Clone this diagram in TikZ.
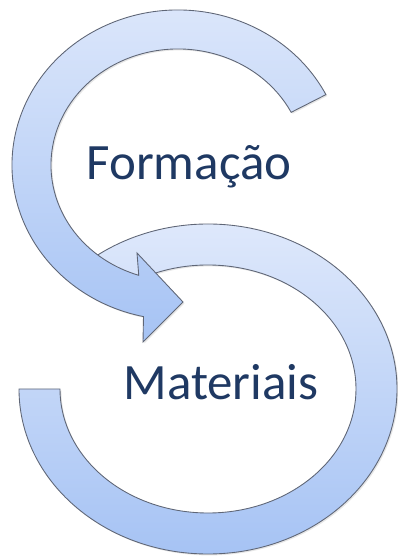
\documentclass[tikz,border=0pt]{standalone}
\usepackage{fontspec}
\setmainfont{Carlito}
\usepackage{tikz}
\usetikzlibrary{calc,shadows}
\definecolor{bandtop}{RGB}{222,232,251}
\definecolor{bandbot}{RGB}{166,195,244}
\definecolor{bandline}{RGB}{95,102,118}
\definecolor{lbltext}{RGB}{31,57,99}
\tikzset{
  band/.style={draw=bandline, line width=0.5pt, top color=bandtop,
    bottom color=bandbot,
    drop shadow={shadow xshift=0.8pt, shadow yshift=-0.8pt, opacity=0.2}},
  lbl/.style={text=lbltext, font=\fontsize{29}{34}\selectfont,
    inner sep=0pt, anchor=base}
}

\begin{document}
\begin{tikzpicture}[x=0.02cm, y=0.02cm]
\useasboundingbox (0,0) rectangle (398,557);
\coordinate (low) at (208,168);
\coordinate (up) at (178,392);

% lower ring, open on the left
\path[band] ($(low)+(180:189 and 165)$)
  arc[start angle=180, end angle=490, x radius=189, y radius=165]
  -- ($(low)+(490:148 and 124)$)
  arc[start angle=490, end angle=180, x radius=148, y radius=124] -- cycle;

% upper ring ending in the arrow head
\path[band] ($(up)+(27:166 and 155)$)
  arc[start angle=27, end angle=258, x radius=166, y radius=155]
  -- (143,215) -- (183,255) -- (137,304)
  -- ($(up)+(252:127 and 116)$)
  arc[start angle=252, end angle=27, x radius=127, y radius=116] -- cycle;

\node[lbl] (form) at (189,377) {Formação};
\node[lbl] (mat) at (221,157) {Materiais};
\end{tikzpicture}
\end{document}
